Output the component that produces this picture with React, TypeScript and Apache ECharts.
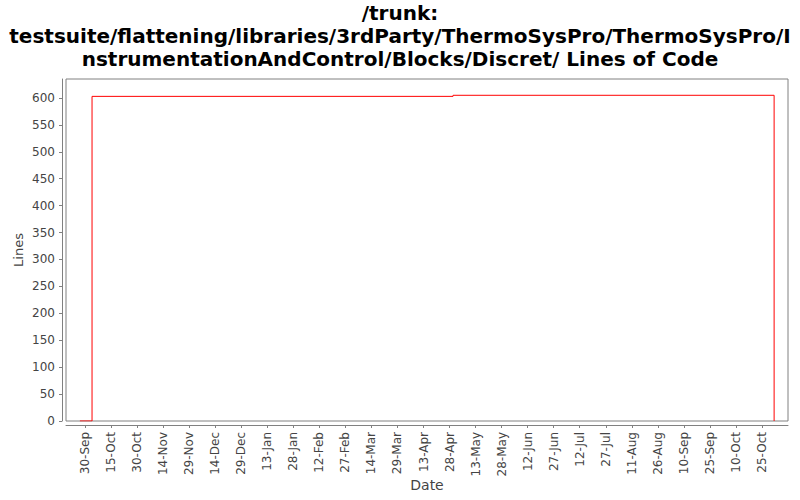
import React, { useEffect, useRef } from "react";
import * as echarts from "echarts";

const TITLE_LINES = [
  "/trunk:",
  "testsuite/flattening/libraries/3rdParty/ThermoSysPro/ThermoSysPro/I",
  "nstrumentationAndControl/Blocks/Discret/ Lines of Code",
];
const DATES = ["2009-09-27", "2009-10-04", "2010-04-30", "2010-11-01"];
const LINES = [0, 603, 605, 0];
const X_TICK_START = "2009-09-30";
const X_TICK_STEP_DAYS = 15;
const X_TICK_COUNT = 27;
const Y_TICKS = [0, 50, 100, 150, 200, 250, 300, 350, 400, 450, 500, 550, 600];
const MONTHS = ["Jan", "Feb", "Mar", "Apr", "May", "Jun", "Jul", "Aug", "Sep", "Oct", "Nov", "Dec"];

const DAY = 86400000;
const toMs = (s: string) => {
  const [y, m, d] = s.split("-").map(Number);
  return Date.UTC(y, m - 1, d);
};
const ORIGIN = toMs(X_TICK_START);
const toDay = (s: string) => Math.round((toMs(s) - ORIGIN) / DAY);
const fmtDay = (v: number) => {
  const d = new Date(ORIGIN + v * DAY);
  return d.getUTCDate() + "-" + MONTHS[d.getUTCMonth()];
};

export default function App() {
  const ref = useRef<HTMLDivElement>(null);
  useEffect(() => {
    if (!ref.current) return;
    const chart = echarts.init(ref.current, null, { renderer: "svg" });
    const xs = DATES.map(toDay);
    const span = Math.max(...xs) - Math.min(...xs);
    const xMin = Math.min(...xs) - Math.round(span * 0.02);
    const xMax = Math.max(...xs) + Math.round(span * 0.02);
    const yMax = Math.max(...LINES) * 1.05;
    const xTicks = Array.from({ length: X_TICK_COUNT }, (_, i) => i * X_TICK_STEP_DAYS);
    const font = "DejaVu Sans";
    const gray = "#808080";
    chart.setOption({
      animation: false,
      backgroundColor: "#ffffff",
      title: {
        text: TITLE_LINES.join("\n"),
        left: "center",
        top: 1,
        padding: 0,
        textStyle: {
          fontFamily: font,
          fontWeight: "bold",
          fontSize: 20,
          lineHeight: 23,
          color: "#000000",
        },
      },
      grid: {
        left: 66,
        right: 12,
        top: 79,
        bottom: 79,
        outerBoundsMode: "none",
        containLabel: false,
        show: true,
        borderColor: gray,
        borderWidth: 1,
        backgroundColor: "#ffffff",
      },
      xAxis: {
        type: "value",
        min: xMin,
        max: xMax,
        offset: 4,
        name: "Date",
        nameLocation: "middle",
        nameGap: 53,
        nameMoveOverlap: false,
        nameTextStyle: { fontFamily: font, fontSize: 14, color: "#444444" },
        axisLine: { show: true, onZero: false, lineStyle: { color: gray, width: 1 } },
        axisTick: { show: true, length: 3, lineStyle: { color: gray }, customValues: xTicks },
        axisLabel: {
          customValues: xTicks,
          rotate: 90,
          margin: 7,
          fontFamily: font,
          fontSize: 12,
          color: "#444444",
          formatter: (v: number) => fmtDay(v),
        },
        splitLine: { show: false },
      },
      yAxis: {
        type: "value",
        min: 0,
        max: yMax,
        offset: 4,
        name: "Lines",
        nameLocation: "middle",
        nameGap: 37,
        nameMoveOverlap: false,
        nameTextStyle: { fontFamily: font, fontSize: 13, color: "#444444" },
        axisLine: { show: true, onZero: false, lineStyle: { color: gray, width: 1 } },
        axisTick: { show: true, length: 3, lineStyle: { color: gray }, customValues: Y_TICKS },
        axisLabel: {
          customValues: Y_TICKS,
          margin: 7,
          fontFamily: font,
          fontSize: 12,
          color: "#444444",
        },
        splitLine: { show: false },
      },
      series: [
        {
          type: "line",
          step: "end",
          data: xs.map((x, i) => [x, LINES[i]]),
          showSymbol: false,
          lineStyle: { color: "#ff0000", width: 1 },
          itemStyle: { color: "#ff0000" },
        },
      ],
    });
    return () => chart.dispose();
  }, []);
  return <div ref={ref} style={{ position: "fixed", left: 0, top: 0, width: 800, height: 500 }} />;
}
